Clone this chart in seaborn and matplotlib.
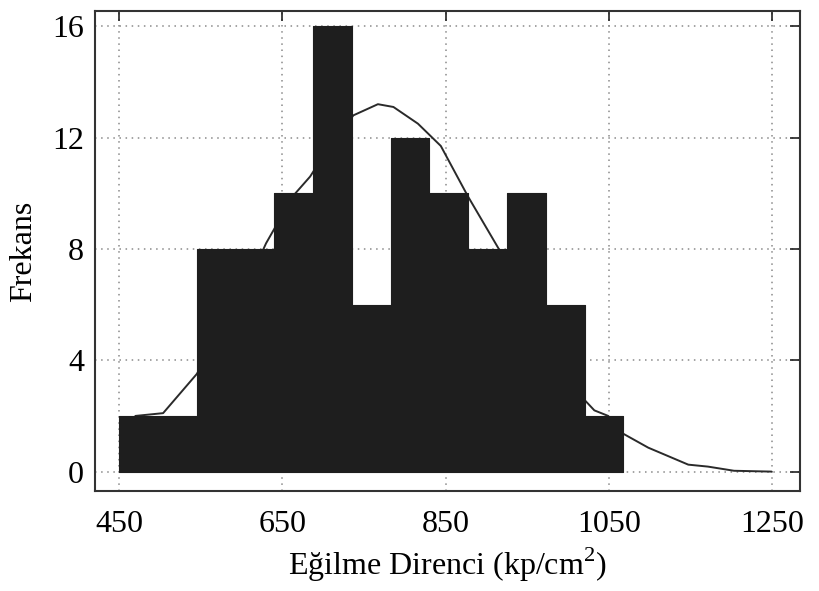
import numpy as np
import pandas as pd
import matplotlib
matplotlib.use("Agg")
import matplotlib.pyplot as plt
import seaborn as sns

# Histogram bins (kp/cm^2) and frequencies
bin_edges = [450, 497.5, 545, 592.5, 640, 687.5, 735, 782.5, 830, 877.5, 925, 972.5, 1020, 1067.5]
counts = [2, 2, 8, 8, 10, 16, 6, 12, 10, 8, 10, 6, 2]

# Fitted curve
curve_x = [470, 504, 545, 590, 630, 663, 684, 710, 737, 767, 786, 816, 844, 877, 897, 915,
           950, 985, 1016, 1032, 1049, 1065, 1098, 1147, 1171, 1203, 1249]
curve_y = [2.0, 2.1, 3.5, 5.6, 8.2, 9.9, 10.6, 11.8, 12.8, 13.2, 13.1, 12.5, 11.7, 9.9, 8.9, 8.0,
           6.0, 4.2, 2.7, 2.2, 2.0, 1.4, 0.86, 0.25, 0.18, 0.03, 0.0]

x_ticks = [450, 650, 850, 1050, 1250]
y_ticks = [0, 4, 8, 12, 16]

centers = [(bin_edges[i] + bin_edges[i + 1]) / 2 for i in range(len(counts))]
df = pd.DataFrame({"x": centers, "w": counts})
cdf = pd.DataFrame({"x": curve_x, "y": curve_y})

sns.set_style("white")
plt.rcParams["font.family"] = ["Liberation Serif", "DejaVu Serif"]
plt.rcParams["mathtext.fontset"] = "custom"
plt.rcParams["mathtext.rm"] = "Liberation Serif"

fig = plt.figure(figsize=(8.19, 5.91), dpi=100)
ax = fig.add_axes([0.116, 0.170, 0.861, 0.811])

ax.grid(True, linestyle=(0, (1, 3)), color="#8a8a8a", linewidth=1.1)
ax.set_axisbelow(True)

sns.lineplot(data=cdf, x="x", y="y", ax=ax, color="#2a2a2a", linewidth=1.4, zorder=2)
sns.histplot(data=df, x="x", weights="w", bins=bin_edges, ax=ax, color="#1e1e1e",
             element="step", alpha=1, edgecolor="#1e1e1e", linewidth=0.8, zorder=3)

ax.set_xlim(420.6, 1284)
ax.set_ylim(-0.68, 16.54)
ax.set_xticks(x_ticks)
ax.set_yticks(y_ticks)
ax.tick_params(direction="in", length=7, width=1.2, top=True, right=True,
               labelsize=23, colors="#222222", labelcolor="black")
ax.tick_params(axis="x", pad=14)
ax.tick_params(axis="y", pad=8)
for s in ax.spines.values():
    s.set_visible(True)
    s.set_color("#333333")
    s.set_linewidth(1.5)

ax.set_xlabel("Eğilme Direnci (kp/cm$^{\\mathrm{2}}$)", fontsize=23, labelpad=5, color="black")
ax.set_ylabel("Frekans", fontsize=23, labelpad=10, color="black")

fig.savefig("out.png", dpi=100)
